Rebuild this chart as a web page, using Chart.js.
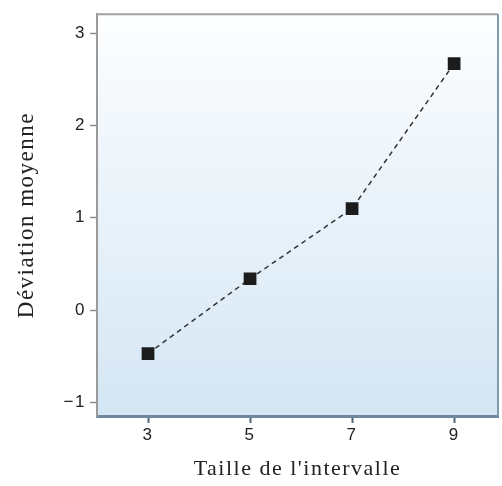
<!DOCTYPE html>
<html>
<head>
<meta charset="utf-8">
<script src="https://cdn.jsdelivr.net/npm/chart.js@4/dist/chart.umd.min.js"></script>
<style>
  html, body { margin: 0; padding: 0; background: #fff; }
  #wrap { width: 502px; height: 486px; }
</style>
</head>
<body>
<div id="wrap"><canvas id="myChart" width="502" height="486"></canvas></div>
<script>
// interval sizes and mean deviation
var xValues = [3, 5, 7, 9];
var yValues = [-0.47, 0.34, 1.10, 2.67];
var xTicks = [3, 5, 7, 9];
var yTicks = [-1, 0, 1, 2, 3];

var points = xValues.map(function (x, i) { return {x: x, y: yValues[i]}; });

// gradient panel + top/right frame
var panel = {
  id: 'panel',
  beforeDraw: function (chart) {
    var a = chart.chartArea, c = chart.ctx;
    c.letterSpacing = '1.5px';   // the titles are set a bit loose
    c.save();
    var g = c.createLinearGradient(0, a.top, 0, a.bottom);
    g.addColorStop(0, '#fdfeff');
    g.addColorStop(1, '#d4e6f4');
    c.fillStyle = g;
    c.fillRect(a.left, a.top, a.right - a.left, a.bottom - a.top);
    c.restore();
  },
  afterDraw: function (chart) {
    var a = chart.chartArea, c = chart.ctx;
    c.save();
    c.strokeStyle = '#a2a2a2';
    c.lineWidth = 2;
    c.beginPath();
    c.moveTo(a.left, a.top);
    c.lineTo(a.right, a.top);
    c.stroke();
    c.strokeStyle = '#7f9bb2';
    c.beginPath();
    c.moveTo(a.right, a.top);
    c.lineTo(a.right, a.bottom);
    c.stroke();
    c.restore();
  }
};

var ctx = document.getElementById('myChart').getContext('2d');
var myChart = new Chart(ctx, {
  type: 'line',
  data: {
    datasets: [{
      data: points,
      borderColor: '#333',
      borderWidth: 1.5,
      borderDash: [5, 4],
      fill: false,
      tension: 0,
      pointStyle: 'rect',
      pointRadius: 9,
      pointBackgroundColor: '#1c1c1c',
      pointBorderColor: '#1c1c1c',
      pointBorderWidth: 0
    }]
  },
  plugins: [panel],
  options: {
    responsive: false,
    animation: false,
    layout: { autoPadding: false, padding: { top: 10, right: 4, left: 0, bottom: 0 } },
    plugins: { legend: { display: false }, tooltip: { enabled: false } },
    scales: {
      x: {
        type: 'linear',
        min: 2.0,
        max: 9.86,
        afterBuildTicks: function (s) { s.ticks = xTicks.map(function (v) { return {value: v}; }); },
        afterFit: function (s) { s.height = 70; s.paddingLeft = 0; s.paddingRight = 0; },
        grid: { drawOnChartArea: false, drawTicks: true, tickLength: 7, tickColor: '#4d667c', tickWidth: 2 },
        border: { display: true, color: '#6d89a1', width: 3 },
        ticks: { color: '#222', padding: 2, font: { family: 'Liberation Sans', size: 17 } },
        title: {
          display: true,
          text: 'Taille de l\'intervalle',
          color: '#222',
          font: { family: 'Liberation Serif', size: 22 },
          padding: { top: 0, bottom: 4 }
        }
      },
      y: {
        min: -1.146,
        max: 3.204,
        afterBuildTicks: function (s) { s.ticks = yTicks.map(function (v) { return {value: v}; }); },
        afterFit: function (s) { s.width = 97; },
        grid: { drawOnChartArea: false, drawTicks: true, tickLength: 7, tickColor: '#8c8c8c', tickWidth: 1.5 },
        border: { display: true, color: '#9a9a9a', width: 2 },
        ticks: {
          color: '#222',
          padding: 4,
          font: { family: 'Liberation Sans', size: 17 },
          callback: function (v) { return v < 0 ? '\u2212' + Math.abs(v) : String(v); }
        },
        title: {
          display: true,
          text: 'Déviation moyenne',
          color: '#222',
          font: { family: 'Liberation Serif', size: 23 },
          padding: { top: 13, bottom: 0 }
        }
      }
    }
  }
});
</script>
</body>
</html>
